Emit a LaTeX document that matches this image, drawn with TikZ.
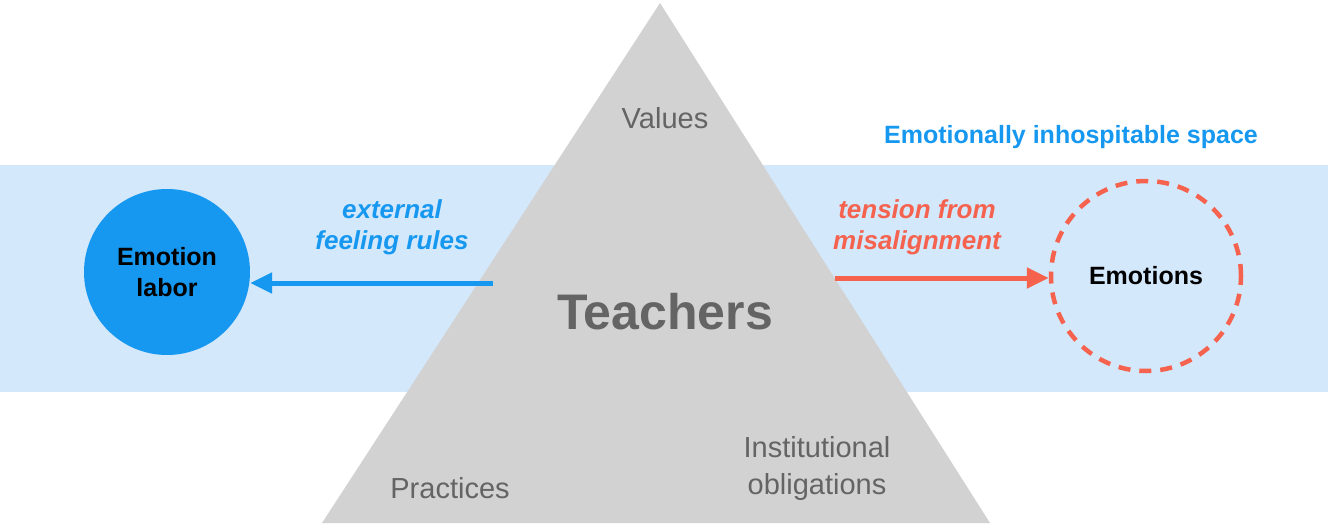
\documentclass[tikz,border=0pt]{standalone}
\usepackage{fontspec}
\setmainfont{Liberation Sans}
\usetikzlibrary{arrows.meta}
\definecolor{band}{RGB}{212,232,252}
\definecolor{tri}{RGB}{210,210,210}
\definecolor{bl}{RGB}{22,152,240}
\definecolor{rd}{RGB}{245,98,78}
\definecolor{gtx}{RGB}{100,100,100}
\tikzset{lbl/.style={font=\fontsize{29}{33}\selectfont,text=gtx,align=center},
blab/.style={font=\fontsize{26}{31}\selectfont\bfseries\itshape,align=center}}
\begin{document}
\begin{tikzpicture}[x=1pt,y=-1pt]
\useasboundingbox (0,0) rectangle (1328,527);
\fill[band] (0,165) rectangle (1328,392);
\fill[tri] (660,3) -- (990,523) -- (322,523) -- cycle;
\node[circle,fill=bl,minimum size=166pt,inner sep=0,align=center,font=\fontsize{25}{31}\selectfont\bfseries] (el) at (167,272) {Emotion\\labor};
\node[circle,draw=rd,line width=4.5pt,dash pattern=on 12pt off 9pt,minimum size=190pt,inner sep=0,font=\fontsize{25}{29}\selectfont\bfseries] (em) at (1146,276) {Emotions};
\coordinate (ls) at (493,283);
\coordinate (rs) at (835,278);
\draw[bl,line width=5pt,-{Triangle[length=22pt,width=20pt]}] (ls) -- (ls -| el.east);
\draw[rd,line width=5pt,-{Triangle[length=22pt,width=20pt]}] (rs) -- (rs -| em.west);
\node[lbl] (v) at (665,118) {Values};
\node[font=\fontsize{50}{58}\selectfont\bfseries,text=gtx] (t) at (665,312) {Teachers};
\node[lbl] (p) at (450,488) {Practices};
\node[lbl,font=\fontsize{29}{37}\selectfont] (io) at (817,468) {Institutional\\obligations};
\node[font=\fontsize{25}{29}\selectfont\bfseries,text=bl] (es) at (1071,137) {Emotionally inhospitable space};
\node[blab,text=bl] (ef) at (392,227) {external\\feeling rules};
\node[blab,text=rd] (tm) at (917,227) {tension from\\misalignment};
\end{tikzpicture}
\end{document}
